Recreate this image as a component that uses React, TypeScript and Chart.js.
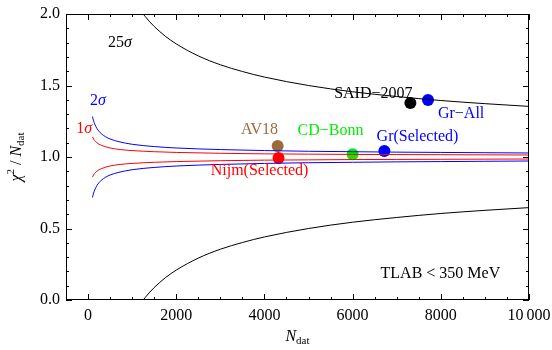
import { useEffect, useRef } from "react";
import { Chart, registerables } from "chart.js";
Chart.register(...registerables);

const FONT = '"Liberation Serif", "Times New Roman", serif';

// sample N values for 1σ / 2σ bands
const sigmaN = [100, 125, 150, 200, 250, 300, 400, 500, 700, 1000, 1500, 2000, 3000, 4000, 5000, 6000, 7000, 8000, 9000, 10000];
const oneSigmaUpper = [1.141, 1.126, 1.115, 1.1, 1.089, 1.082, 1.071, 1.063, 1.053, 1.045, 1.037, 1.032, 1.026, 1.022, 1.02, 1.018, 1.017, 1.016, 1.015, 1.014];
const oneSigmaLower = [0.859, 0.874, 0.885, 0.9, 0.911, 0.918, 0.929, 0.937, 0.947, 0.955, 0.963, 0.968, 0.974, 0.978, 0.98, 0.982, 0.983, 0.984, 0.985, 0.986];
const twoSigmaUpper = [1.283, 1.253, 1.231, 1.2, 1.179, 1.163, 1.141, 1.126, 1.107, 1.089, 1.073, 1.063, 1.052, 1.045, 1.04, 1.037, 1.034, 1.032, 1.03, 1.028];
const twoSigmaLower = [0.717, 0.747, 0.769, 0.8, 0.821, 0.837, 0.859, 0.874, 0.893, 0.911, 0.927, 0.937, 0.948, 0.955, 0.96, 0.963, 0.966, 0.968, 0.97, 0.972];

// 25σ band
const bigN = [1250, 1300, 1400, 1500, 1750, 2000, 2500, 3000, 3500, 4000, 5000, 6000, 7000, 8000, 9000, 10000];
const bigSigmaUpper = [2.0, 1.981, 1.945, 1.913, 1.845, 1.791, 1.707, 1.645, 1.598, 1.559, 1.5, 1.456, 1.423, 1.395, 1.373, 1.354];
const bigSigmaLower = [0.0, 0.019, 0.055, 0.087, 0.155, 0.209, 0.293, 0.355, 0.402, 0.441, 0.5, 0.544, 0.577, 0.605, 0.627, 0.646];

// potentials
const modelNames = ["AV18", "Nijm(Selected)", "CD\u2212Bonn", "Gr(Selected)", "SAID\u22122007", "Gr\u2212All"];
const modelN = [4300, 4320, 6000, 6720, 7310, 7710];
const modelChi = [1.077, 0.993, 1.02, 1.042, 1.378, 1.399];
const modelColors = ["#9c6b3c", "#ff0000", "#00ee00", "#0000ff", "#000000", "#0000ff"];
// label anchor (data coords)
const labelN = [3890, 3890, 5500, 7470, 6470, 8460];
const labelChi = [1.189, 0.902, 1.18, 1.14, 1.444, 1.30];

const xTicks = [0, 2000, 4000, 6000, 8000, 10000];
const yTicks = [0, 0.5, 1.0, 1.5, 2.0];

const pts = (xs: number[], ys: number[]) => xs.map((x, i) => ({ x, y: ys[i] }));

type Part = { t: string; italic?: boolean; size?: number; dy?: number };

function drawRich(ctx: CanvasRenderingContext2D, parts: Part[], cx: number, cy: number, color: string) {
  const fontOf = (p: Part) => `${p.italic ? "italic " : ""}${p.size ?? 16}px ${FONT}`;
  let total = 0;
  for (const p of parts) {
    ctx.font = fontOf(p);
    total += ctx.measureText(p.t).width;
  }
  let x = cx - total / 2;
  ctx.fillStyle = color;
  ctx.textBaseline = "middle";
  ctx.textAlign = "left";
  for (const p of parts) {
    ctx.font = fontOf(p);
    ctx.fillText(p.t, x, cy + (p.dy ?? 0));
    x += ctx.measureText(p.t).width;
  }
}

const decorPlugin = {
  id: "decor",
  afterDraw(chart: any) {
    const ctx: CanvasRenderingContext2D = chart.ctx;
    const { left, right, top, bottom } = chart.chartArea;
    const xs = chart.scales.x;
    const ys = chart.scales.y;
    ctx.save();
    ctx.strokeStyle = "#000";
    ctx.lineWidth = 1;
    ctx.strokeRect(left + 0.5, top + 0.5, right - left - 1, bottom - top - 1);
    ctx.beginPath();
    for (let v = -500; v <= 10000; v += 500) {
      const px = Math.round(xs.getPixelForValue(v)) + 0.5;
      const len = v % 2000 === 0 ? 6 : 3;
      ctx.moveTo(px, bottom);
      ctx.lineTo(px, bottom - len);
      ctx.moveTo(px, top);
      ctx.lineTo(px, top + len);
    }
    for (let i = 0; i <= 20; i++) {
      const v = i / 10;
      const py = Math.round(ys.getPixelForValue(v)) + 0.5;
      const len = i % 5 === 0 ? 6 : 3;
      ctx.moveTo(left, py);
      ctx.lineTo(left + len, py);
      ctx.moveTo(right, py);
      ctx.lineTo(right - len, py);
    }
    ctx.stroke();

    // sigma labels
    drawRich(ctx, [{ t: "25" }, { t: "\u03c3", italic: true }], xs.getPixelForValue(724), ys.getPixelForValue(1.797), "#000");
    drawRich(ctx, [{ t: "2" }, { t: "\u03c3", italic: true }], xs.getPixelForValue(226), ys.getPixelForValue(1.39), "#0000ff");
    drawRich(ctx, [{ t: "1" }, { t: "\u03c3", italic: true }], xs.getPixelForValue(-90), ys.getPixelForValue(1.2), "#ff0000");

    modelNames.forEach((name, i) => {
      drawRich(ctx, [{ t: name }], xs.getPixelForValue(labelN[i]), ys.getPixelForValue(labelChi[i]), modelColors[i]);
    });

    drawRich(ctx, [{ t: "TLAB < 350 MeV" }], xs.getPixelForValue(7990), ys.getPixelForValue(0.182), "#000");

    // x title
    drawRich(ctx, [{ t: "N", italic: true }, { t: "dat", size: 11, dy: 4 }], (left + right) / 2, 337, "#000");
    // y title
    ctx.translate(17, (top + bottom) / 2);
    ctx.rotate(-Math.PI / 2);
    drawRich(
      ctx,
      [{ t: "\u03c7", italic: true }, { t: "2", size: 11, dy: -6 }, { t: " / " }, { t: "N", italic: true }, { t: "dat", size: 11, dy: 4 }],
      0,
      0,
      "#000"
    );
    ctx.restore();
  },
};

export default function App() {
  const ref = useRef<HTMLCanvasElement>(null);
  useEffect(() => {
    document.body.style.margin = "0";
    const line = (data: any, color: string) => ({
      type: "line" as const,
      data,
      borderColor: color,
      borderWidth: 1,
      pointRadius: 0,
      fill: false,
      cubicInterpolationMode: "monotone" as const,
    });
    const chart = new Chart(ref.current!, {
      type: "line",
      data: {
        datasets: [
          line(pts(bigN, bigSigmaUpper), "#000"),
          line(pts(bigN, bigSigmaLower), "#000"),
          line(pts(sigmaN, twoSigmaUpper), "#0000ff"),
          line(pts(sigmaN, twoSigmaLower), "#0000ff"),
          line(pts(sigmaN, oneSigmaUpper), "#ff0000"),
          line(pts(sigmaN, oneSigmaLower), "#ff0000"),
          {
            type: "scatter" as const,
            data: pts(modelN, modelChi),
            pointRadius: 6,
            pointBackgroundColor: modelColors,
            pointBorderColor: modelColors,
            pointBorderWidth: 0,
            showLine: false,
          } as any,
        ],
      },
      options: {
        animation: false,
        responsive: false,
        layout: { padding: { top: 14, right: 23, left: 0, bottom: 0 } },
        plugins: { legend: { display: false }, tooltip: { enabled: false } },
        scales: {
          x: {
            type: "linear",
            min: -500,
            max: 10000,
            grid: { display: false, drawTicks: false },
            border: { display: false },
            afterBuildTicks: (s: any) => {
              s.ticks = xTicks.map((v) => ({ value: v }));
            },
            afterFit: (s: any) => {
              s.height = 50;
              s.paddingLeft = 0;
              s.paddingRight = 0;
            },
            ticks: {
              maxRotation: 0,
              autoSkip: false,
              padding: 6,
              color: "#000",
              font: { family: FONT, size: 16 },
              callback: (v: any) => (v === 10000 ? "10\u2009000" : String(v)),
            },
          },
          y: {
            type: "linear",
            min: 0,
            max: 2,
            grid: { display: false, drawTicks: false },
            border: { display: false },
            afterBuildTicks: (s: any) => {
              s.ticks = yTicks.map((v) => ({ value: v }));
            },
            afterFit: (s: any) => {
              s.width = 66;
              s.paddingTop = 0;
              s.paddingBottom = 0;
            },
            ticks: {
              autoSkip: false,
              padding: 6,
              color: "#000",
              font: { family: FONT, size: 16 },
              callback: (v: any) => Number(v).toFixed(1),
            },
          },
        },
      },
      plugins: [decorPlugin],
    });
    return () => chart.destroy();
  }, []);
  return (
    <div style={{ width: 552, height: 350 }}>
      <canvas ref={ref} width={552} height={350} />
    </div>
  );
}
